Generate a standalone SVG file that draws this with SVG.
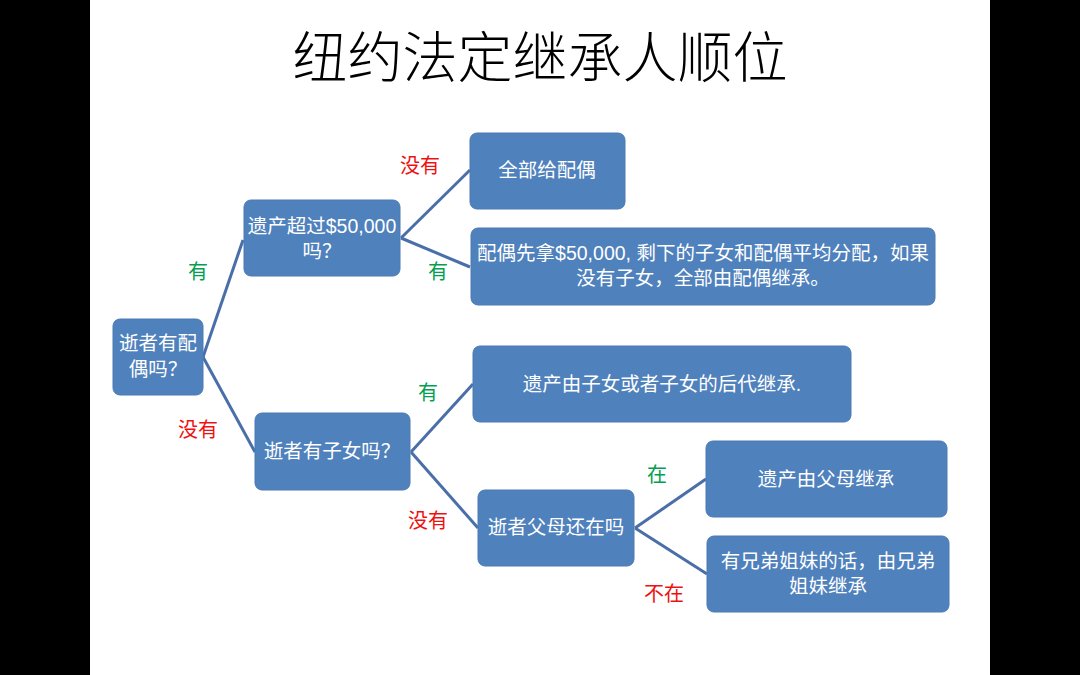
<svg xmlns="http://www.w3.org/2000/svg" width="1080" height="675" viewBox="0 0 1080 675">
<style>
.box{fill:#4f81bd;stroke:#4a7ab3;stroke-width:1}
.t{font-family:"Liberation Sans","Noto Sans CJK SC",sans-serif;font-size:19.5px;fill:#fff;text-anchor:middle}
.c{stroke:#4a6fa8;stroke-width:3;fill:none}
.g{font-family:"Noto Sans CJK SC",sans-serif;font-size:20px;fill:#00a050;text-anchor:middle}
.r{font-family:"Noto Sans CJK SC",sans-serif;font-size:20px;fill:#ee1111;text-anchor:middle}
</style>
<rect x="0" y="0" width="1080" height="675" fill="#000"/>
<rect x="90" y="0" width="900" height="675" fill="#fff"/>
<text x="540" y="77" font-family="Noto Sans CJK SC,serif" font-size="55" text-anchor="middle" fill="#000" font-weight="300">纽约法定继承人顺位</text>
<g id="connectors">
<line class="c" x1="203" y1="357" x2="243" y2="240"/>
<line class="c" x1="203" y1="357" x2="255" y2="452"/>
<line class="c" x1="401" y1="238" x2="470" y2="170"/>
<line class="c" x1="401" y1="238" x2="470" y2="267"/>
<line class="c" x1="411" y1="452" x2="473" y2="384"/>
<line class="c" x1="411" y1="452" x2="478" y2="528"/>
<line class="c" x1="635" y1="528" x2="706" y2="479"/>
<line class="c" x1="635" y1="528" x2="707" y2="574"/>
</g>
<g id="labels">
<text class="g" x="198" y="279">有</text>
<text class="r" x="198" y="437">没有</text>
<text class="r" x="420" y="173">没有</text>
<text class="g" x="438" y="279">有</text>
<text class="g" x="428" y="400">有</text>
<text class="r" x="428" y="528">没有</text>
<text class="g" x="657" y="482">在</text>
<text class="r" x="664" y="601">不在</text>
</g>
<g id="root"><rect class="box" x="113" y="319" width="90" height="76" rx="7"/><text class="t" x="158" y="350">逝者有配</text><text class="t" x="158" y="376">偶吗？</text></g>
<g id="estate"><rect class="box" x="244" y="200" width="156" height="76" rx="7"/><text class="t" x="322" y="233">遗产超过$50,000</text><text class="t" x="322" y="258">吗？</text></g>
<g id="allspouse"><rect class="box" x="470" y="133" width="155" height="76" rx="7"/><text class="t" x="547" y="177">全部给配偶</text></g>
<g id="split"><rect class="box" x="471" y="228" width="464" height="77" rx="7"/><text class="t" x="703" y="260">配偶先拿$50,000, 剩下的子女和配偶平均分配，如果</text><text class="t" x="703" y="285">没有子女，全部由配偶继承。</text></g>
<g id="children"><rect class="box" x="255" y="413" width="155" height="77" rx="7"/><text class="t" x="332" y="458">逝者有子女吗？</text></g>
<g id="descendants"><rect class="box" x="473" y="346" width="378" height="76" rx="7"/><text class="t" x="662" y="391">遗产由子女或者子女的后代继承.</text></g>
<g id="parentsq"><rect class="box" x="478" y="490" width="156" height="76" rx="7"/><text class="t" x="556" y="534">逝者父母还在吗</text></g>
<g id="parents"><rect class="box" x="706" y="441" width="241" height="76" rx="7"/><text class="t" x="826" y="486">遗产由父母继承</text></g>
<g id="siblings"><rect class="box" x="707" y="536" width="242" height="76" rx="7"/><text class="t" x="828" y="568">有兄弟姐妹的话，由兄弟</text><text class="t" x="828" y="593">姐妹继承</text></g>
</svg>
